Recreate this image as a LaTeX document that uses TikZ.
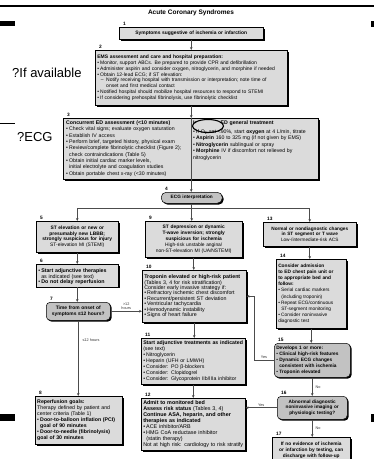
\documentclass[tikz,border=0pt]{standalone}
\usepackage{fontspec}
\setmainfont{Liberation Sans}
\usetikzlibrary{positioning,arrows.meta,shadows,shapes.geometric}
\setlength{\parindent}{0pt}

\definecolor{boxfill}{gray}{0.86}
\definecolor{askfill}{gray}{0.76}
\definecolor{linegray}{gray}{0.3}

\newcommand\sz[2]{\fontsize{#1}{#2}\selectfont}
\newcommand\boxfont{\sz{4.7}{5.7}}
\newcommand\numfont{\sz{4.8}{5}\bfseries}
\newcommand\itm{\par\hangindent=3pt\hangafter=1\makebox[3pt][l]{\textbullet}}
\newcommand\subitm{\par\hangindent=9pt\hangafter=1\hspace*{3.5pt}\makebox[5.5pt][l]{--}}

\begin{document}
\begin{tikzpicture}
% Style
[
    x=1pt, y=-1pt,
    box/.style={
        draw=black, line width=.5pt, fill=boxfill, anchor=north west,
        inner sep=2pt, font=\boxfont, align=left,
        drop shadow={shadow xshift=1.4pt, shadow yshift=-1.4pt, fill=black, opacity=1}
    },
    ask/.style={box, fill=askfill, rounded corners=4pt, align=center},
    line/.style={draw=linegray, line width=.6pt},
    flow/.style={line, -{Stealth[length=3pt, width=2.6pt]}},
    num/.style={font=\numfont, inner sep=0pt, anchor=south west},
    lbl/.style={font=\sz{3.8}{4.4}, inner sep=1pt, text=black!80},
    side/.style={font=\sz{13}{15}, inner sep=0pt, anchor=west},
    col/.style={font=\sz{5.2}{6.35}, text width=124pt, align=left, anchor=north west, inner sep=0pt}
]
\useasboundingbox (0,0) rectangle (374,459);
\clip (0,0) rectangle (374,459);

%=================================== Frame ===================================
\draw[line width=1.4pt] (0,6) -- (374,6);
\fill (0,21) rectangle (15,25.5);
\fill (371,21) rectangle (374,26.5);
\fill (0,414) rectangle (15,421);
\fill (371,414) rectangle (374,422);
\draw[line width=.6pt] (0,123) -- (15,123);
\node[side] (ifav) at (12,73) {?If available};
\node[side] (ecgq) at (17,137) {?ECG};
\node[font=\sz{6.5}{7}\bfseries, inner sep=0pt] (title) at (191,13) {Acute Coronary Syndromes};

%=================================== Boxes ===================================
\node[box, align=center, text width=140pt, minimum height=12pt, font=\sz{4.9}{5.7}\bfseries] (sympt) at (119,27)
    {Symptoms suggestive of ischemia or infarction};

\node[box, text width=188pt, minimum height=55pt, font=\sz{5}{5.9}] (ems) at (95,50) {%
    \textbf{EMS assessment and care and hospital preparation:}
    \itm Monitor, support ABCs. Be prepared to provide CPR and defibrillation
    \itm Administer aspirin and consider oxygen, nitroglycerin, and morphine if needed
    \itm Obtain 12-lead ECG; if ST elevation:
    \subitm Notify receiving hospital with transmission or interpretation; note time of\newline onset and first medical contact
    \itm Notified hospital should mobilize hospital resources to respond to STEMI
    \itm If considering prehospital fibrinolysis, use fibrinolytic checklist};

\node[box, inner sep=0pt, minimum width=255pt, minimum height=61pt] (edbox) at (63,118) {};
\node[col] (edleft) at (66,120.5) {%
    \textbf{Concurrent ED assessment (<10 minutes)}
    \itm Check vital signs; evaluate oxygen saturation
    \itm Establish IV access
    \itm Perform brief, targeted history, physical exam
    \itm Review/complete fibrinolytic checklist (Figure 2);\newline check contraindications (Table 5)
    \itm Obtain initial cardiac marker levels,\newline initial electrolyte and coagulation studies
    \itm Obtain portable chest x-ray (<30 minutes)};
\node[col] (edhead) at (193,120.5) {\textbf{Immediate ED general treatment}};
\node[ellipse, draw=black, line width=1.1pt, fill=boxfill, minimum width=31pt, minimum height=13pt, inner sep=0pt] (ring) at (208,126) {};
\node[col] (edright) at ([yshift=-1.3pt]edhead.south west) {%
    \itm If O\textsubscript{2} sat <90\%, start \textbf{oxygen} at 4 L/min, titrate
    \itm \textbf{Aspirin} 160 to 325 mg (if not given by EMS)
    \itm \textbf{Nitroglycerin} sublingual or spray
    \itm \textbf{Morphine} IV if discomfort not relieved by\newline nitroglycerin};

\node[ask, text width=57pt, minimum height=11pt, rounded corners=5pt, font=\boxfont\bfseries] (ecg) at (161,192) {ECG interpretation};

\node[box, align=center, text width=78pt, minimum height=31pt, font=\sz{4.9}{5.8}] (stemi) at (36,221) {%
    \textbf{ST elevation or new or}\\ \textbf{presumably new LBBB;}\\ \textbf{strongly suspicious for injury}\\ ST-elevation MI (STEMI)};
\node[box, align=center, text width=93pt, minimum height=36pt, font=\sz{4.9}{5.8}] (nstemi) at (145,221) {%
    \textbf{ST depression or dynamic}\\ \textbf{T-wave inversion; strongly}\\ \textbf{suspicious for ischemia}\\ High-risk unstable angina/\\ non-ST-elevation MI (UA/NSTEMI)};
\node[box, align=center, text width=89pt, minimum height=24pt] (lowrisk) at (263,222) {%
    \textbf{Normal or nondiagnostic changes}\\ \textbf{in ST segment or T wave}\\ Low-/intermediate-risk ACS};

\node[box, text width=78pt, minimum height=21pt, font=\sz{5.3}{5.9}] (adj) at (36,264) {%
    \itm \textbf{Start adjunctive therapies}\newline as indicated (see text)
    \itm \textbf{Do not delay reperfusion}};
\node[ask, text width=60pt, minimum height=18pt, font=\sz{4.9}{5.8}\bfseries] (time) at (46,302) {%
    Time from onset of\\ symptoms ≤12 hours?};
\node[box, text width=83pt, minimum height=48pt, font=\sz{5.2}{6}] (reperf) at (35,396) {%
    \textbf{Reperfusion goals:}\par
    Therapy defined by patient and\newline center criteria (Table 1)
    \itm \textbf{Door-to-balloon inflation (PCI)}\newline \textbf{goal of 90 minutes}
    \itm \textbf{Door-to-needle (fibrinolysis)}\newline \textbf{goal of 30 minutes}};

\node[box, text width=100pt, minimum height=52pt, inner ysep=1pt, font=\sz{5.3}{5.45}] (trop) at (142,270) {%
    \textbf{Troponin elevated or high-risk patient}\par
    (Tables 3, 4 for risk stratification)\par
    Consider early invasive strategy if:
    \itm Refractory ischemic chest discomfort
    \itm Recurrent/persistent ST deviation
    \itm Ventricular tachycardia
    \itm Hemodynamic instability
    \itm Signs of heart failure};
\node[box, text width=100pt, minimum height=46pt, font=\sz{5.2}{5.9}] (treat) at (141,338) {%
    \textbf{Start adjunctive treatments as indicated}\par
    (see text)
    \itm Nitroglycerin
    \itm Heparin (UFH or LMWH)
    \itm Consider: PO β-blockers
    \itm Consider: Clopidogrel
    \itm Consider: Glycoprotein IIb/IIIa inhibitor};
\node[box, text width=100pt, minimum height=52pt, inner ysep=1.5pt, font=\sz{5.4}{6}] (admit) at (141,398) {%
    \textbf{Admit to monitored bed}\par
    \textbf{Assess risk status} (Tables 3, 4)\par
    \textbf{Continue ASA, heparin, and other}\par
    \textbf{therapies as indicated}
    \itm ACE inhibitor/ARB
    \itm HMG CoA reductase inhibitor\newline (statin therapy)
    \par Not at high risk: cardiology to risk stratify};

\node[box, text width=66pt, minimum height=69pt, font=\sz{4.8}{6.2}] (chest) at (276,259) {%
    \textbf{Consider admission}\par
    \textbf{to ED chest pain unit or}\par
    \textbf{to appropriate bed and}\par
    \textbf{follow:}
    \itm Serial cardiac markers\newline (including troponin)
    \itm Repeat ECG/continuous\newline ST-segment monitoring
    \itm Consider noninvasive\newline diagnostic test};
\node[ask, align=left, text width=72pt, minimum height=34pt, font=\sz{4.8}{5.9}] (dev) at (274,343) {%
    \textbf{Develops 1 or more:}
    \itm \textbf{Clinical high-risk features}
    \itm \textbf{Dynamic ECG changes}\newline \textbf{consistent with ischemia}
    \itm \textbf{Troponin elevated}};
\node[ask, text width=66pt, minimum height=23pt, font=\boxfont\bfseries] (abn) at (277,396) {%
    Abnormal diagnostic\\ noninvasive imaging or\\ physiologic testing?};
\node[box, align=center, text width=74pt, minimum height=26pt, font=\sz{4.8}{5.8}\bfseries] (nodis) at (272,437) {%
    If no evidence of ischemia\\ or infarction by testing, can\\ discharge with follow-up};

%================================== Numbers ==================================
\foreach \b/\n in {sympt/1, ems/2, edbox/3, ecg/4, stemi/5, adj/6, time/7, reperf/8,
                   nstemi/9, trop/10, treat/11, admit/12, lowrisk/13, chest/14,
                   dev/15, abn/16, nodis/17} {
    \node[num] (num-\n) at ([xshift=4pt, yshift=1.5pt]\b.north west) {\n};
}

%================================== Arrows ===================================
\draw[flow] (sympt.south) -- (sympt.south |- ems.north);
\draw[flow] (ems.south) -- (ems.south |- edbox.north);
\draw[line] (ems.south |- edbox.north) -- (ems.south |- edbox.south);
\draw[flow] (ems.south |- edbox.south) -- (ems.south |- ecg.north);

\draw[flow] (ecg.south) -- (ecg.south |- nstemi.north);
\draw[line] (ecg.south) -- ++(0,5) coordinate (split);
\draw[flow] (split) -| (stemi.north);
\draw[flow] (split) -| (lowrisk.north);

\draw[flow] (stemi.south) -- (stemi.south |- adj.north);
\draw[flow] (adj.south) -- (adj.south |- time.north);
\draw[flow] (time.east) -- node[lbl, above, align=center] {>12\\hours} (time.east -| trop.west);
\draw[flow] (time.south) -- node[lbl, right, pos=.26, xshift=3pt] {≤12 hours} (time.south |- reperf.north);

\draw[flow] (nstemi.south) -- (nstemi.south |- trop.north);
\draw[flow] (trop.south) -- (trop.south |- treat.north);
\draw[flow] (treat.south) -- (treat.south |- admit.north);

\draw[flow] (lowrisk.south) -- (lowrisk.south |- chest.north);
\draw[flow] (chest.south) -- (chest.south |- dev.north);
\draw[flow] (dev.west) -- node[lbl, above] {Yes} ++(-20,0) |- (trop.east);
\draw[flow] (dev.south) -- node[lbl, right, xshift=2pt] {No} (dev.south |- abn.north);
\draw[flow] (abn.west) -- node[lbl, above] {Yes} (abn.west -| admit.east);
\draw[flow] (abn.south) -- node[lbl, right, xshift=2pt] {No} (abn.south |- nodis.north);

\end{tikzpicture}
\end{document}
